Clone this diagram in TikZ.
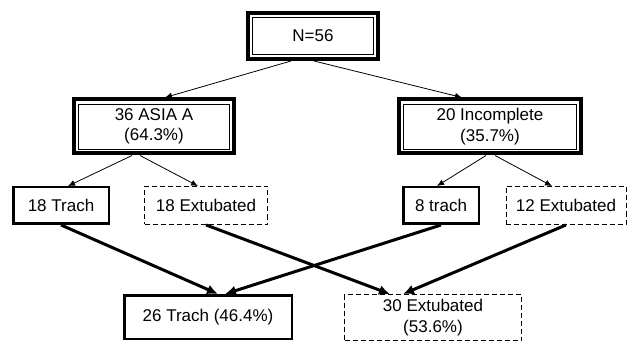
\documentclass[tikz,border=0pt]{standalone}
\usepackage{fontspec}
\setmainfont{Liberation Sans}
\usetikzlibrary{arrows.meta}

\tikzset{
    dblbox/.style={draw=black, line width=4pt, align=center, inner sep=2pt},
    trachbox/.style={draw=black, line width=2.5pt, minimum height=36.5pt, align=center, inner sep=2pt},
    extbox/.style={draw=black, line width=0.9pt, dash pattern=on 5pt off 3pt, minimum height=38pt, align=center, inner sep=2pt},
    thickarrow/.style={draw=black, line width=3pt, -{Latex[length=11pt, width=10pt]}}
}

\begin{document}
\begin{tikzpicture}
            [x=1pt, y=1pt, font=\fontsize{17}{20.5}\selectfont,
            edge from parent/.style={draw=black, line width=0.8pt, -{Latex[length=7pt, width=6pt]}},
            level 1/.style={level distance=90.5pt, sibling distance=336pt},
            level 2/.style={level distance=79pt, sibling distance=145pt}]
            \useasboundingbox (0,0) rectangle (627,-342);
            % split by injury level
            \node [dblbox, minimum width=130pt, minimum height=46pt] (total) at (313,-36) {N=56}
            child [xshift=9pt, edge from parent path={([xshift=-22pt]\tikzparentnode.south) -- ([xshift=11pt]\tikzchildnode.north)}] {
                node [dblbox, minimum width=160pt, minimum height=54pt] (asia) {36 ASIA A\\(64.3\%)}
                child [xshift=-20.5pt, edge from parent path={([xshift=-22pt]\tikzparentnode.south) -- ([xshift=7pt]\tikzchildnode.north)}] {
                    node [trachbox, minimum width=95.5pt] (trach18) {18 Trach}
                }
                child [xshift=-20.5pt, edge from parent path={([xshift=-14pt]\tikzparentnode.south) -- ([xshift=-8pt]\tikzchildnode.north)}] {
                    node [extbox, minimum width=123pt] (extub18) {18 Extubated}
                }
            }
            child [xshift=9pt, edge from parent path={([xshift=1pt]\tikzparentnode.south) -- ([xshift=-28pt]\tikzchildnode.north)}] {
                node [dblbox, minimum width=182pt, minimum height=54pt] (incompl) {20 Incomplete\\(35.7\%)}
                child [xshift=23.5pt, edge from parent path={([xshift=-4pt]\tikzparentnode.south) -- ([xshift=-4pt]\tikzchildnode.north)}] {
                    node [trachbox, minimum width=75.5pt] (trach8) {8 trach}
                }
                child [xshift=3.5pt, edge from parent path={([xshift=5pt]\tikzparentnode.south) -- ([xshift=-14pt]\tikzchildnode.north)}] {
                    node [extbox, minimum width=120pt] (extub12) {12 Extubated}
                }
            };
            % inner frame of the double boxes
            \foreach \n in {total, asia, incompl}
                \draw [line width=0.8pt] ([shift={(6.5pt,-6.5pt)}]\n.north west) rectangle ([shift={(-6.5pt,6.5pt)}]\n.south east);
            % outcome totals
            \node [trachbox, minimum width=167.5pt, minimum height=43.5pt] (trach26) at (208,-317) {26 Trach (46.4\%)};
            \node [extbox, minimum width=177pt, minimum height=46pt] (extub30) at (433,-317.5) {30 Extubated\\(53.6\%)};
            \draw [thickarrow] (trach18.south) -- ([xshift=10pt]trach26.north);
            \draw [thickarrow] (trach8.south) -- ([xshift=17pt]trach26.north);
            \draw [thickarrow] (extub18.south) -- ([xshift=-43pt]extub30.north);
            \draw [thickarrow] (extub12.south) -- ([xshift=-30pt]extub30.north);
\end{tikzpicture}
\end{document}
